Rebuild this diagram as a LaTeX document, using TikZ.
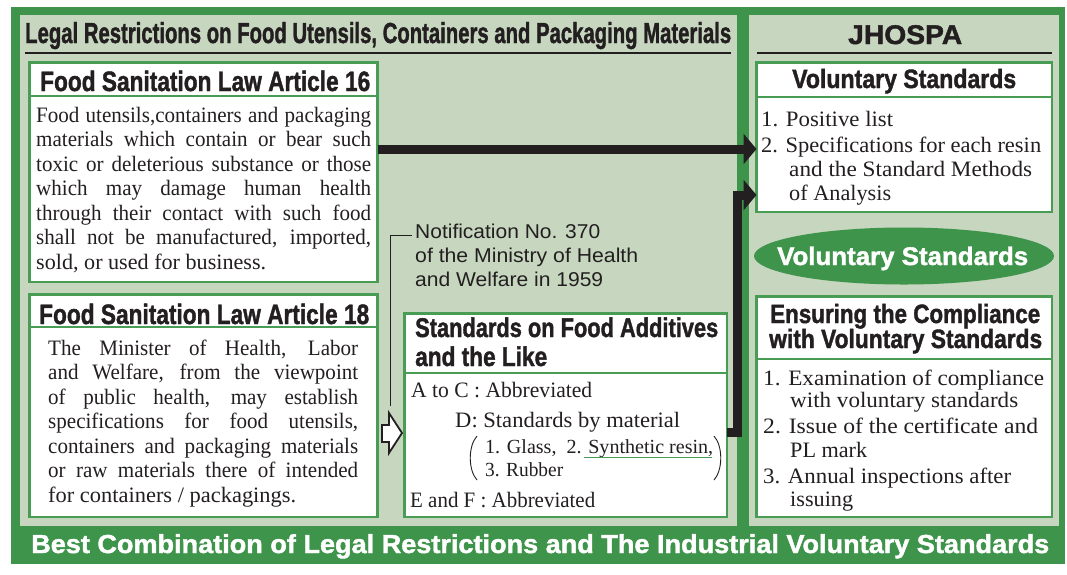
\documentclass[tikz,border=0pt]{standalone}
\usepackage{fontspec}
\setmainfont{Liberation Serif}
\setsansfont{Liberation Sans}[BoldFeatures={FakeBold=1.6}]
\usetikzlibrary{arrows.meta,shapes.geometric,fit}
\definecolor{frameg}{RGB}{62,148,74}
\definecolor{paneg}{RGB}{198,214,191}
\definecolor{boxg}{RGB}{72,156,84}
\definecolor{ink}{RGB}{35,31,32}
\newcommand\fitw[2]{\resizebox{#1}{\height}{#2}}
\newcommand\just[2]{\makebox[#1][s]{#2}}
\newcommand\cjust[3]{\resizebox{#1}{\height}{\makebox[#2][s]{#3}}}
\begin{document}
\begin{tikzpicture}[x=1pt,y=-1pt,
  box/.style={draw=boxg, line width=2.5pt, fill=white, inner sep=0pt, outer sep=0pt},
  sepline/.style={draw=boxg, line width=2.5pt},
  bdtxt/.style={anchor=base west, inner sep=0pt, text=ink, font=\fontsize{22}{22}\selectfont},
  bdsm/.style={anchor=base west, inner sep=0pt, text=ink, font=\fontsize{20}{20}\selectfont},
  hdtxt/.style={anchor=base west, inner sep=0pt, text=ink, font=\sffamily\bfseries\fontsize{27}{27}\selectfont},
  nttxt/.style={anchor=base west, inner sep=0pt, text=ink, font=\sffamily\fontsize{20}{20}\selectfont},
  whtxt/.style={anchor=base west, inner sep=0pt, text=white, font=\sffamily\bfseries\fontsize{26}{26}\selectfont},
  bigarrow/.style={draw=ink, line width=9pt, line join=miter, -{Triangle[length=13pt,width=30pt]}},
  underrule/.style={draw=ink, line width=2pt},
]
\useasboundingbox (0,0) rectangle (1067,574);
% background frame and panels
\fill[frameg] (11,7) rectangle (1065,564);
\fill[paneg] (20,15) rectangle (737,526);
\fill[paneg] (749,15) rectangle (1059,526);

% titles
\node[hdtxt, font=\sffamily\bfseries\fontsize{29}{29}\selectfont] (title) at (25,43)
  {\fitw{706pt}{Legal Restrictions on Food Utensils, Containers and Packaging Materials}};
\draw[underrule] (25,52.5) -- (731,52.5);
\node[hdtxt, font=\sffamily\bfseries\fontsize{27}{27}\selectfont] (jh) at (848,44) {\fitw{114pt}{JHOSPA}};
\draw[underrule] (757,52.5) -- (1052,52.5);

% helper coordinates
\coordinate (y96) at (0,96);
\coordinate (y327) at (0,327);
\coordinate (y373) at (0,373);
\coordinate (y97) at (0,97);
\coordinate (y359) at (0,359);

% boxes
\node[box, fit={(29.5,62.5) (377.5,282)}] (box1) {};
\draw[sepline] (box1.west |- y96) -- (box1.east |- y96);
\node[box, fit={(29.5,294.5) (377.5,517)}] (box2) {};
\draw[sepline] (box2.west |- y327) -- (box2.east |- y327);
\node[box, fit={(404.5,313.5) (727,517)}] (box3) {};
\draw[sepline] (box3.west |- y373) -- (box3.east |- y373);
\node[box, fit={(756.5,62.5) (1052,212)}] (box4) {};
\draw[sepline] (box4.west |- y97) -- (box4.east |- y97);
\node[box, fit={(756.5,296.5) (1052,517)}] (box5) {};
\draw[sepline] (box5.west |- y359) -- (box5.east |- y359);

% ellipse
\node[ellipse, fill=frameg, minimum width=300pt, minimum height=57pt, inner sep=0pt] (vell) at (904,256) {};
\node[whtxt, font=\sffamily\bfseries\fontsize{25.5}{25.5}\selectfont] (velltxt) at (777,265) {\fitw{251pt}{Voluntary Standards}};

% box1
\node[hdtxt, font=\sffamily\bfseries\fontsize{28}{28}\selectfont] (h1) at (40,91) {\fitw{330pt}{Food Sanitation Law Article 16}};
\node[bdtxt] (b1l1) at (36,122) {\cjust{335pt}{350pt}{Food utensils,containers and packaging}};
\node[bdtxt] (b1l2) at (36,146.5) {\cjust{335pt}{350pt}{materials which contain or bear such}};
\node[bdtxt] (b1l3) at (36,171) {\cjust{335pt}{350pt}{toxic or deleterious substance or those}};
\node[bdtxt] (b1l4) at (36,195.5) {\cjust{335pt}{350pt}{which may damage human health}};
\node[bdtxt] (b1l5) at (36,220) {\cjust{335pt}{350pt}{through their contact with such food}};
\node[bdtxt] (b1l6) at (36,244.5) {\cjust{335pt}{350pt}{shall not be manufactured, imported,}};
\node[bdtxt] (b1l7) at (36,269) {\fitw{230pt}{sold, or used for business.}};

% box2
\node[hdtxt, font=\sffamily\bfseries\fontsize{28}{28}\selectfont] (h2) at (39,324) {\fitw{330pt}{Food Sanitation Law Article 18}};
\node[bdtxt] (b2l1) at (48,355) {\cjust{310pt}{324pt}{The Minister of Health, Labor}};
\node[bdtxt] (b2l2) at (48,379.5) {\cjust{310pt}{324pt}{and Welfare, from the viewpoint}};
\node[bdtxt] (b2l3) at (48,404) {\cjust{310pt}{324pt}{of public health, may establish}};
\node[bdtxt] (b2l4) at (48,428.5) {\cjust{310pt}{324pt}{specifications for food utensils,}};
\node[bdtxt] (b2l5) at (48,453) {\cjust{310pt}{324pt}{containers and packaging materials}};
\node[bdtxt] (b2l6) at (48,477.5) {\cjust{310pt}{324pt}{or raw materials there of intended}};
\node[bdtxt] (b2l7) at (48,502) {\fitw{248pt}{for containers / packagings.}};

% notification
\node[nttxt] (not1) at (415,238) {\fitw{185pt}{Notification No. 370}};
\node[nttxt] (not2) at (415,262) {\fitw{223pt}{of the Ministry of Health}};
\node[nttxt] (not3) at (415,286) {\fitw{188pt}{and Welfare in 1959}};
\coordinate (nlow) at (390,406);
\draw[ink, line width=1pt] (nlow) |- ([xshift=-3pt]not1.mid west);

% hollow arrow
\draw[ink, line width=1.8pt, fill=white, line join=miter]
  (382,425) -- (389,425) -- (389,413) -- (402,433) -- (389,453) -- (389,442) -- (382,442) -- cycle;

% box3
\node[hdtxt, font=\sffamily\bfseries\fontsize{27}{27}\selectfont] (h3a) at (415,337) {\fitw{303pt}{Standards on Food Additives}};
\node[hdtxt, font=\sffamily\bfseries\fontsize{27}{27}\selectfont] (h3b) at (415,366) {\fitw{132pt}{and the Like}};
\node[bdtxt] (b3l1) at (411,397) {\fitw{181pt}{A to C : Abbreviated}};
\node[bdtxt] (b3l2) at (455,427) {\fitw{225pt}{D: Standards by material}};
\node[bdsm] (b3l3) at (485,453) {\fitw{228pt}{1. Glass,\ \ 2. Synthetic resin,}};
\node[bdsm] (b3l4) at (485,476) {\fitw{78pt}{3. Rubber}};
\node[bdtxt] (b3l5) at (410,507) {\fitw{185pt}{E and F : Abbreviated}};
\draw[boxg, line width=1pt] (584,457) -- (712,457);
\draw[ink, line width=0.9pt] (477,436) .. controls (468,446) and (468,470) .. (477,480);
\draw[ink, line width=0.9pt] (714,436) .. controls (723,446) and (723,470) .. (714,480);

% box4
\node[hdtxt, font=\sffamily\bfseries\fontsize{26.5}{26.5}\selectfont] (h4) at (792,88) {\fitw{224pt}{Voluntary Standards}};
\node[bdtxt] (b4l1) at (761,126) {\fitw{132pt}{1. Positive list}};
\node[bdtxt] (b4l2) at (761,152) {\fitw{280pt}{2. Specifications for each resin}};
\node[bdtxt] (b4l3) at (789,176) {\fitw{243pt}{and the Standard Methods}};
\node[bdtxt] (b4l4) at (789,200) {\fitw{102pt}{of Analysis}};

% box5
\node[hdtxt, font=\sffamily\bfseries\fontsize{26.5}{26.5}\selectfont] (h5a) at (770,323) {\fitw{270pt}{Ensuring the Compliance}};
\node[hdtxt, font=\sffamily\bfseries\fontsize{26.5}{26.5}\selectfont] (h5b) at (769,348) {\fitw{273pt}{with Voluntary Standards}};
\node[bdtxt] (b5l1) at (763,385) {\fitw{281pt}{1. Examination of compliance}};
\node[bdtxt] (b5l2) at (790,407) {\fitw{228pt}{with voluntary standards}};
\node[bdtxt] (b5l3) at (763,433) {\fitw{275pt}{2. Issue of the certificate and}};
\node[bdtxt] (b5l4) at (790,457) {\fitw{77pt}{PL mark}};
\node[bdtxt] (b5l5) at (763,483) {\fitw{248pt}{3. Annual inspections after}};
\node[bdtxt] (b5l6) at (790,506) {\fitw{63pt}{issuing}};

% big arrows
\coordinate (a1) at (0,149);
\draw[bigarrow] (box1.east |- a1) -- (box4.west |- a1);
\coordinate (a2s) at (0,432.5);
\coordinate (a2c) at (737,195);
\draw[bigarrow] (box3.east |- a2s) -| (a2c) -- (box4.west |- a2c);

% bottom banner text
\node[whtxt] (bottom) at (31,553) {\fitw{1018pt}{Best Combination of Legal Restrictions and The Industrial Voluntary Standards}};
\end{tikzpicture}
\end{document}
